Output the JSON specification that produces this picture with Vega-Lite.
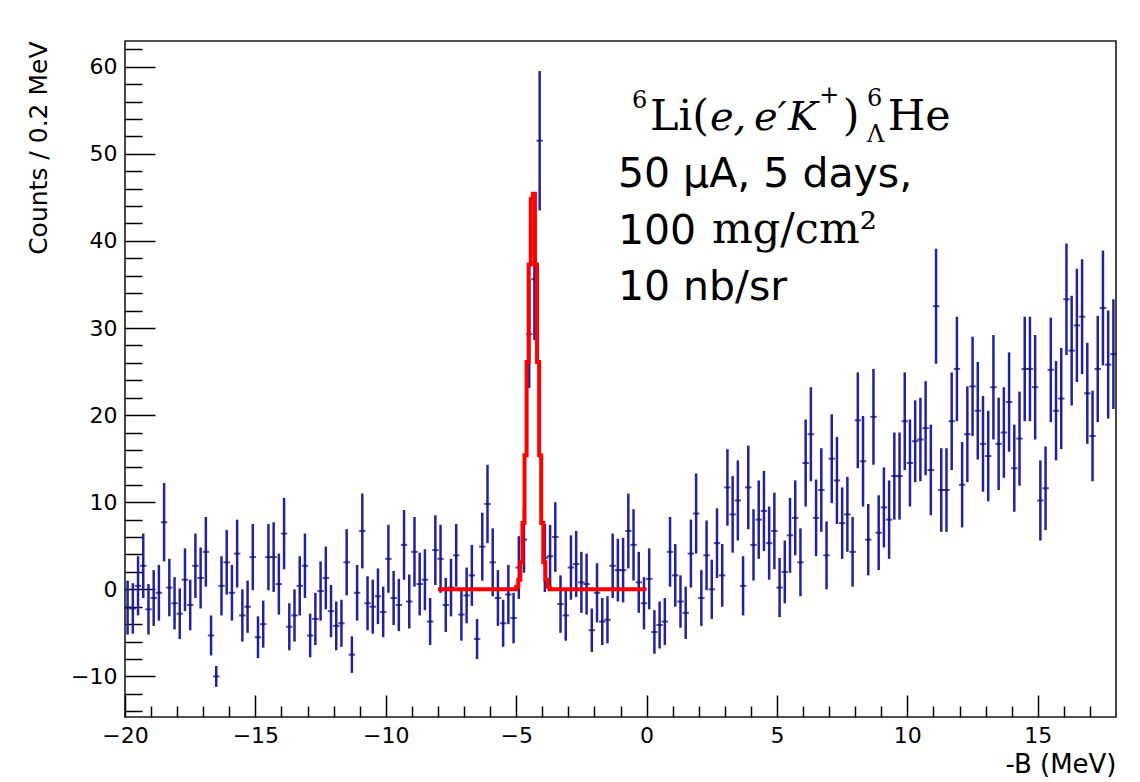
{
  "$schema": "https://vega.github.io/schema/vega-lite/v6.json",
  "width": 991,
  "height": 676,
  "autosize": {"type": "none"},
  "padding": {"left": 125, "top": 41, "right": 24, "bottom": 65},
  "background": "white",
  "config": {
    "view": {"stroke": "#1a1a1a", "strokeWidth": 1.6},
    "axis": {"labelFont": "DejaVu Sans", "titleFont": "DejaVu Sans", "labelColor": "#000", "titleColor": "#000", "tickColor": "#000", "tickWidth": 1.5, "grid": false, "domain": false, "titleFontWeight": "normal"}
  },
  "datasets": {
    "bins": [
      {"x": -19.9, "y": -2.1, "e": 3.1}, {"x": -19.7, "y": -2.2, "e": 2.9}, {"x": -19.5, "y": 0.4, "e": 3.4}, {"x": -19.3, "y": 2.7, "e": 3.7}, {"x": -19.1, "y": -2.3, "e": 2.9},
      {"x": -18.9, "y": -1.0, "e": 3.2}, {"x": -18.7, "y": -0.4, "e": 3.2}, {"x": -18.5, "y": 7.7, "e": 4.5}, {"x": -18.3, "y": 0.2, "e": 3.3}, {"x": -18.1, "y": -1.6, "e": 3.0},
      {"x": -17.9, "y": -2.8, "e": 2.9}, {"x": -17.7, "y": 1.1, "e": 3.6}, {"x": -17.5, "y": -1.8, "e": 2.9}, {"x": -17.3, "y": 2.7, "e": 3.7}, {"x": -17.1, "y": 1.3, "e": 3.5},
      {"x": -16.9, "y": 4.3, "e": 4.0}, {"x": -16.7, "y": -5.3, "e": 2.3}, {"x": -16.5, "y": -10.0, "e": 1.2}, {"x": -16.3, "y": 0.4, "e": 3.4}, {"x": -16.1, "y": 3.1, "e": 3.7},
      {"x": -15.9, "y": -0.4, "e": 3.2}, {"x": -15.7, "y": 4.1, "e": 3.9}, {"x": -15.5, "y": -3.0, "e": 3.0}, {"x": -15.3, "y": -2.0, "e": 3.0}, {"x": -15.1, "y": 3.7, "e": 3.8},
      {"x": -14.9, "y": -5.5, "e": 2.4}, {"x": -14.7, "y": -4.0, "e": 2.7}, {"x": -14.5, "y": 3.7, "e": 3.8}, {"x": -14.3, "y": 3.7, "e": 4.0}, {"x": -14.1, "y": 0.6, "e": 3.5},
      {"x": -13.9, "y": 6.4, "e": 4.1}, {"x": -13.7, "y": -4.3, "e": 2.7}, {"x": -13.5, "y": -3.0, "e": 3.0}, {"x": -13.3, "y": 0.4, "e": 3.4}, {"x": -13.1, "y": 2.7, "e": 3.7},
      {"x": -12.9, "y": -5.3, "e": 2.5}, {"x": -12.7, "y": -3.4, "e": 3.0}, {"x": -12.5, "y": -0.2, "e": 3.4}, {"x": -12.3, "y": 1.3, "e": 3.6}, {"x": -12.1, "y": -2.5, "e": 3.0},
      {"x": -11.9, "y": -4.2, "e": 2.8}, {"x": -11.7, "y": -3.9, "e": 2.7}, {"x": -11.5, "y": 3.1, "e": 3.8}, {"x": -11.3, "y": -7.5, "e": 2.1}, {"x": -11.1, "y": -0.4, "e": 3.2},
      {"x": -10.9, "y": 6.7, "e": 4.3}, {"x": -10.7, "y": -1.6, "e": 3.1}, {"x": -10.5, "y": -2.0, "e": 3.1}, {"x": -10.3, "y": -0.8, "e": 3.2}, {"x": -10.1, "y": -2.6, "e": 2.9},
      {"x": -9.9, "y": 3.5, "e": 3.9}, {"x": -9.7, "y": -1.0, "e": 3.1}, {"x": -9.5, "y": -1.8, "e": 3.0}, {"x": -9.3, "y": 5.1, "e": 4.0}, {"x": -9.1, "y": -1.4, "e": 3.1},
      {"x": -8.9, "y": 4.3, "e": 4.0}, {"x": -8.7, "y": 0.6, "e": 3.6}, {"x": -8.5, "y": 1.1, "e": 3.5}, {"x": -8.3, "y": -3.7, "e": 2.7}, {"x": -8.1, "y": 4.5, "e": 4.0},
      {"x": -7.9, "y": 3.5, "e": 3.9}, {"x": -7.7, "y": -1.8, "e": 3.1}, {"x": -7.5, "y": 0.2, "e": 3.3}, {"x": -7.3, "y": 3.9, "e": 3.6}, {"x": -7.1, "y": -2.9, "e": 3.0},
      {"x": -6.9, "y": -0.7, "e": 3.2}, {"x": -6.7, "y": 1.6, "e": 3.5}, {"x": -6.5, "y": -5.7, "e": 2.3}, {"x": -6.3, "y": 4.9, "e": 3.9}, {"x": -6.1, "y": 9.8, "e": 4.5},
      {"x": -5.9, "y": 3.1, "e": 3.9}, {"x": -5.7, "y": -1.0, "e": 3.2}, {"x": -5.5, "y": -3.9, "e": 2.7}, {"x": -5.3, "y": -0.6, "e": 3.4}, {"x": -5.1, "y": -3.3, "e": 2.9},
      {"x": -4.9, "y": 2.5, "e": 3.6}, {"x": -4.7, "y": 5.7, "e": 3.8}, {"x": -4.5, "y": 29.3, "e": 6.2}, {"x": -4.3, "y": 35.6, "e": 7.0}, {"x": -4.1, "y": 51.5, "e": 8.0},
      {"x": -3.9, "y": 3.6, "e": 3.9}, {"x": -3.7, "y": 3.8, "e": 3.6}, {"x": -3.5, "y": 6.0, "e": 4.0}, {"x": -3.3, "y": -1.7, "e": 3.3}, {"x": -3.1, "y": -3.0, "e": 2.9},
      {"x": -2.9, "y": 2.5, "e": 3.7}, {"x": -2.7, "y": 2.9, "e": 3.8}, {"x": -2.5, "y": 0.8, "e": 3.5}, {"x": -2.3, "y": 0.6, "e": 3.5}, {"x": -2.1, "y": -4.7, "e": 2.5},
      {"x": -1.9, "y": -0.4, "e": 3.4}, {"x": -1.7, "y": -3.7, "e": 2.7}, {"x": -1.5, "y": -3.5, "e": 2.7}, {"x": -1.3, "y": 2.7, "e": 3.7}, {"x": -1.1, "y": 2.2, "e": 3.6},
      {"x": -0.9, "y": 2.2, "e": 3.7}, {"x": -0.7, "y": 6.7, "e": 4.3}, {"x": -0.5, "y": 5.1, "e": 4.1}, {"x": -0.3, "y": 0.8, "e": 3.5}, {"x": -0.1, "y": -1.6, "e": 3.0},
      {"x": 0.1, "y": 1.2, "e": 3.5}, {"x": 0.3, "y": -4.9, "e": 2.5}, {"x": 0.5, "y": -4.1, "e": 2.7}, {"x": 0.7, "y": -3.7, "e": 2.7}, {"x": 0.9, "y": 4.3, "e": 4.0},
      {"x": 1.1, "y": 1.6, "e": 3.6}, {"x": 1.3, "y": -1.4, "e": 3.0}, {"x": 1.5, "y": -2.7, "e": 3.0}, {"x": 1.7, "y": 4.1, "e": 3.9}, {"x": 1.9, "y": 8.7, "e": 4.6},
      {"x": 2.1, "y": -1.0, "e": 3.2}, {"x": 2.3, "y": 3.9, "e": 4.0}, {"x": 2.5, "y": 0.0, "e": 3.4}, {"x": 2.7, "y": 5.3, "e": 4.0}, {"x": 2.9, "y": 1.6, "e": 3.6},
      {"x": 3.1, "y": 11.7, "e": 4.4}, {"x": 3.3, "y": 8.6, "e": 4.4}, {"x": 3.5, "y": 10.2, "e": 4.6}, {"x": 3.7, "y": 0.4, "e": 3.4}, {"x": 3.9, "y": 11.7, "e": 4.8},
      {"x": 4.1, "y": 5.1, "e": 4.1}, {"x": 4.3, "y": 8.0, "e": 4.5}, {"x": 4.5, "y": 9.0, "e": 4.6}, {"x": 4.7, "y": 5.3, "e": 4.2}, {"x": 4.9, "y": 6.7, "e": 4.4},
      {"x": 5.1, "y": 0.2, "e": 3.4}, {"x": 5.3, "y": 2.0, "e": 3.6}, {"x": 5.5, "y": 6.2, "e": 4.3}, {"x": 5.7, "y": 8.2, "e": 4.3}, {"x": 5.9, "y": 3.1, "e": 3.9},
      {"x": 6.1, "y": 14.5, "e": 5.0}, {"x": 6.3, "y": 17.8, "e": 5.4}, {"x": 6.5, "y": 8.2, "e": 4.4}, {"x": 6.7, "y": 11.4, "e": 4.8}, {"x": 6.9, "y": 3.9, "e": 3.9},
      {"x": 7.1, "y": 15.0, "e": 5.1}, {"x": 7.3, "y": 12.5, "e": 5.0}, {"x": 7.5, "y": 7.6, "e": 4.1}, {"x": 7.7, "y": 8.6, "e": 4.3}, {"x": 7.9, "y": 4.3, "e": 4.0},
      {"x": 8.1, "y": 19.4, "e": 5.5}, {"x": 8.3, "y": 14.7, "e": 5.2}, {"x": 8.5, "y": 5.7, "e": 4.1}, {"x": 8.7, "y": 19.8, "e": 5.5}, {"x": 8.9, "y": 6.5, "e": 4.3},
      {"x": 9.1, "y": 9.4, "e": 4.6}, {"x": 9.3, "y": 8.0, "e": 4.5}, {"x": 9.5, "y": 13.0, "e": 5.0}, {"x": 9.7, "y": 13.0, "e": 5.0}, {"x": 9.9, "y": 19.3, "e": 5.6},
      {"x": 10.1, "y": 14.5, "e": 5.0}, {"x": 10.3, "y": 17.0, "e": 4.7}, {"x": 10.5, "y": 17.2, "e": 4.8}, {"x": 10.7, "y": 18.5, "e": 5.4}, {"x": 10.9, "y": 13.7, "e": 5.2},
      {"x": 11.1, "y": 32.5, "e": 6.6}, {"x": 11.3, "y": 11.4, "e": 4.8}, {"x": 11.5, "y": 11.4, "e": 4.8}, {"x": 11.7, "y": 19.3, "e": 5.6}, {"x": 11.9, "y": 25.3, "e": 6.0},
      {"x": 12.1, "y": 12.0, "e": 4.9}, {"x": 12.3, "y": 17.8, "e": 5.5}, {"x": 12.5, "y": 23.3, "e": 5.7}, {"x": 12.7, "y": 20.5, "e": 5.6}, {"x": 12.9, "y": 16.7, "e": 5.5},
      {"x": 13.1, "y": 15.3, "e": 5.2}, {"x": 13.3, "y": 23.2, "e": 6.0}, {"x": 13.5, "y": 16.7, "e": 5.3}, {"x": 13.7, "y": 18.0, "e": 5.2}, {"x": 13.9, "y": 21.5, "e": 5.7},
      {"x": 14.1, "y": 13.9, "e": 5.0}, {"x": 14.3, "y": 17.3, "e": 5.4}, {"x": 14.5, "y": 25.3, "e": 6.0}, {"x": 14.7, "y": 25.3, "e": 6.0}, {"x": 14.9, "y": 23.2, "e": 6.0},
      {"x": 15.1, "y": 10.2, "e": 4.6}, {"x": 15.3, "y": 11.6, "e": 4.8}, {"x": 15.5, "y": 25.2, "e": 6.0}, {"x": 15.7, "y": 20.5, "e": 5.7}, {"x": 15.9, "y": 21.9, "e": 5.8},
      {"x": 16.1, "y": 33.3, "e": 6.4}, {"x": 16.3, "y": 27.4, "e": 6.3}, {"x": 16.5, "y": 30.3, "e": 6.5}, {"x": 16.7, "y": 31.3, "e": 6.6}, {"x": 16.9, "y": 22.5, "e": 5.8},
      {"x": 17.1, "y": 17.6, "e": 5.2}, {"x": 17.3, "y": 25.3, "e": 6.1}, {"x": 17.5, "y": 32.3, "e": 6.6}, {"x": 17.7, "y": 25.8, "e": 6.2}, {"x": 17.9, "y": 27.0, "e": 6.3}
    ],
    "fit": [
      {"x": -8.0, "y": 0}, {"x": -5.0, "y": 0.3}, {"x": -4.92, "y": 1.1}, {"x": -4.84, "y": 3.1}, {"x": -4.76, "y": 7.6},
      {"x": -4.68, "y": 15.4}, {"x": -4.60, "y": 26.1}, {"x": -4.52, "y": 37.3}, {"x": -4.44, "y": 44.8}, {"x": -4.36, "y": 45.4},
      {"x": -4.28, "y": 37.3}, {"x": -4.20, "y": 26.1}, {"x": -4.12, "y": 15.4}, {"x": -4.04, "y": 7.6}, {"x": -3.96, "y": 3.1},
      {"x": -3.88, "y": 1.1}, {"x": -3.80, "y": 0.3}, {"x": -3.72, "y": 0}, {"x": 0.0, "y": 0}
    ],
    "serif": [
      {"x": 0.13, "y": 52.74, "t": "Li("}, {"x": 7.52, "y": 52.74, "t": ")"}, {"x": 9.25, "y": 52.74, "t": "He"},
      {"x": 2.51, "y": 39.8, "t": "mg/cm²"}
    ],
    "serifItalic": [
      {"x": 2.43, "y": 52.74, "t": "e,"}, {"x": 4.12, "y": 52.74, "t": "e′"}, {"x": 5.42, "y": 52.74, "t": "K"}
    ],
    "serifSmall": [
      {"x": -0.56, "y": 55.3, "t": "6"}, {"x": 6.62, "y": 55.8, "t": "+"}, {"x": 8.45, "y": 55.5, "t": "6"}, {"x": 8.45, "y": 51.3, "t": "Λ"}
    ],
    "sans": [
      {"x": -1.1, "y": 46.2, "t": "50 μA, 5 days,"}, {"x": -1.1, "y": 39.6, "t": "100"}, {"x": -1.1, "y": 33.2, "t": "10 nb/sr"}
    ]
  },
  "layer": [
    {
      "data": {"name": "bins"},
      "mark": {"type": "errorbar", "color": "#2222a0", "thickness": 2.5},
      "encoding": {
        "x": {
          "field": "x", "type": "quantitative",
          "scale": {"domain": [-20, 18], "nice": false, "zero": false},
          "axis": {
            "title": "-B (MeV)", "titleFontSize": 26, "titleAlign": "right", "titleBaseline": "alphabetic", "titleX": 991, "titleY": 55,
            "values": [-20,-19,-18,-17,-16,-15,-14,-13,-12,-11,-10,-9,-8,-7,-6,-5,-4,-3,-2,-1,0,1,2,3,4,5,6,7,8,9,10,11,12,13,14,15,16,17],
            "tickCount": 40, "format": "d",
            "labelExpr": "datum.value % 5 === 0 ? datum.label : ''",
            "labelFontSize": 22, "labelPadding": 30, "labelFlush": false, "labelOverlap": false,
            "tickSize": {"condition": {"test": "datum.value % 5 === 0", "value": -22}, "value": -11}
          }
        },
        "y": {
          "field": "y", "type": "quantitative",
          "scale": {"domain": [-14.66, 62.95], "nice": false, "zero": false},
          "axis": {
            "title": "Counts / 0.2 MeV", "titleFontSize": 25, "titleAngle": -90, "titleAlign": "right", "titleBaseline": "alphabetic", "titleX": -79, "titleY": 0,
            "values": [-14,-12,-10,-8,-6,-4,-2,0,2,4,6,8,10,12,14,16,18,20,22,24,26,28,30,32,34,36,38,40,42,44,46,48,50,52,54,56,58,60,62],
            "tickCount": 40, "format": "d",
            "labelExpr": "datum.value % 10 === 0 ? datum.label : ''",
            "labelFontSize": 22, "labelPadding": 38, "labelOverlap": false,
            "tickSize": {"condition": {"test": "datum.value % 10 === 0", "value": -30}, "value": -17}
          }
        },
        "yError": {"field": "e"}
      }
    },
    {
      "data": {"name": "bins"},
      "mark": {"type": "tick", "orient": "horizontal", "color": "#0c0c60", "thickness": 2, "size": 6.5},
      "encoding": {
        "x": {"field": "x", "type": "quantitative"},
        "y": {"field": "y", "type": "quantitative"}
      }
    },
    {
      "data": {"name": "fit"},
      "mark": {"type": "line", "interpolate": "step-after", "color": "#ff0000", "strokeWidth": 4},
      "encoding": {
        "x": {"field": "x", "type": "quantitative"},
        "y": {"field": "y", "type": "quantitative"}
      }
    },
    {
      "data": {"name": "serif"},
      "mark": {"type": "text", "font": "DejaVu Serif", "fontSize": 43, "align": "left", "baseline": "alphabetic", "color": "#000"},
      "encoding": {"x": {"field": "x", "type": "quantitative"}, "y": {"field": "y", "type": "quantitative"}, "text": {"field": "t"}}
    },
    {
      "data": {"name": "serifItalic"},
      "mark": {"type": "text", "font": "DejaVu Serif", "fontStyle": "italic", "fontSize": 40, "align": "left", "baseline": "alphabetic", "color": "#000"},
      "encoding": {"x": {"field": "x", "type": "quantitative"}, "y": {"field": "y", "type": "quantitative"}, "text": {"field": "t"}}
    },
    {
      "data": {"name": "serifSmall"},
      "mark": {"type": "text", "font": "DejaVu Serif", "fontSize": 24, "align": "left", "baseline": "alphabetic", "color": "#000"},
      "encoding": {"x": {"field": "x", "type": "quantitative"}, "y": {"field": "y", "type": "quantitative"}, "text": {"field": "t"}}
    },
    {
      "data": {"name": "sans"},
      "mark": {"type": "text", "font": "DejaVu Sans", "fontSize": 41, "align": "left", "baseline": "alphabetic", "color": "#000"},
      "encoding": {"x": {"field": "x", "type": "quantitative"}, "y": {"field": "y", "type": "quantitative"}, "text": {"field": "t"}}
    }
  ]
}
